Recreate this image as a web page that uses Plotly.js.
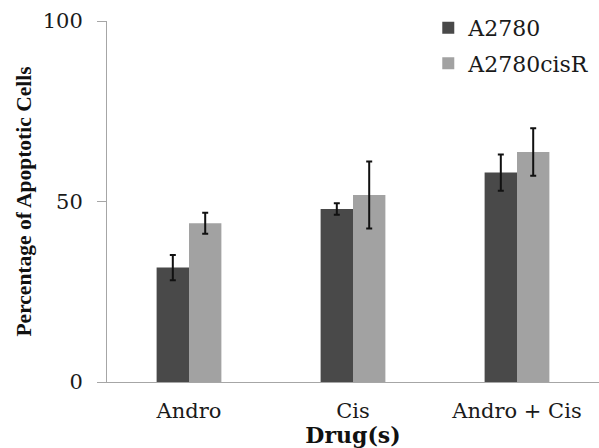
<!DOCTYPE html>
<html>
<head>
<meta charset="utf-8">
<script src="https://cdn.plot.ly/plotly-3.0.1.min.js"></script>
<style>html,body{margin:0;padding:0;background:#fff;}#chart{width:599px;height:448px;}</style>
</head>
<body>
<div id="chart"></div>
<script>
const categories = ["Andro", "Cis", "Andro + Cis"];
const seriesNames = ["A2780", "A2780cisR"];
const a2780 = [31.7, 47.9, 58.0];
const a2780Err = [3.5, 1.6, 5.0];
const cisR = [44.0, 51.8, 63.7];
const cisRErr = [2.9, 9.3, 6.6];
const yTickVals = [0, 50, 100];

const wideSerif = "DejaVu Serif";
const narrowSerif = "Liberation Serif";
const errStyle = (arr) => ({type: "data", array: arr, visible: true, color: "#111", thickness: 2, width: 3});

const traces = [
  {type: "bar", name: seriesNames[0], x: categories, y: a2780, error_y: errStyle(a2780Err),
   marker: {color: "#494949"}, legendgroup: "g1"},
  {type: "bar", name: seriesNames[1], x: categories, y: cisR, error_y: errStyle(cisRErr),
   marker: {color: "#a2a2a2"}, legendgroup: "g2"}
];

const layout = {
  width: 599, height: 448,
  margin: {l: 107, r: 0, t: 21, b: 66},
  paper_bgcolor: "#ffffff", plot_bgcolor: "#ffffff",
  barmode: "group", bargap: 0.605, bargroupgap: 0,
  font: {family: wideSerif, size: 21, color: "#1a1a1a"},
  showlegend: true,
  legend: {x: 0.653, y: 1.039, xanchor: "left", yanchor: "top", bgcolor: "rgba(0,0,0,0)",
           font: {family: wideSerif, size: 22, color: "#1a1a1a"}, traceorder: "grouped", tracegroupgap: 4},
  xaxis: {
    type: "category", showline: true, linecolor: "#a6a6a6", linewidth: 1,
    ticks: "", showgrid: false, zeroline: false, ticklabelstandoff: 10,
    tickfont: {family: wideSerif, size: 21, color: "#1a1a1a"},
    title: {text: "<b>Drug(s)</b>", font: {family: wideSerif, size: 22, color: "#111"}, standoff: 0}
  },
  yaxis: {
    range: [0, 100], tickvals: yTickVals, ticktext: yTickVals.map(String),
    showline: true, linecolor: "#a6a6a6", linewidth: 1,
    ticks: "outside", ticklen: 9, tickcolor: "#a6a6a6", tickwidth: 1,
    showgrid: false, zeroline: false, ticklabelstandoff: 10,
    tickfont: {family: wideSerif, size: 21, color: "#1a1a1a"},
    title: {text: "<b>Percentage of Apoptotic Cells</b>", font: {family: narrowSerif, size: 21.5, color: "#111"}, standoff: 5}
  }
};

Plotly.newPlot("chart", traces, layout, {displayModeBar: false, staticPlot: true});
</script>
</body>
</html>
